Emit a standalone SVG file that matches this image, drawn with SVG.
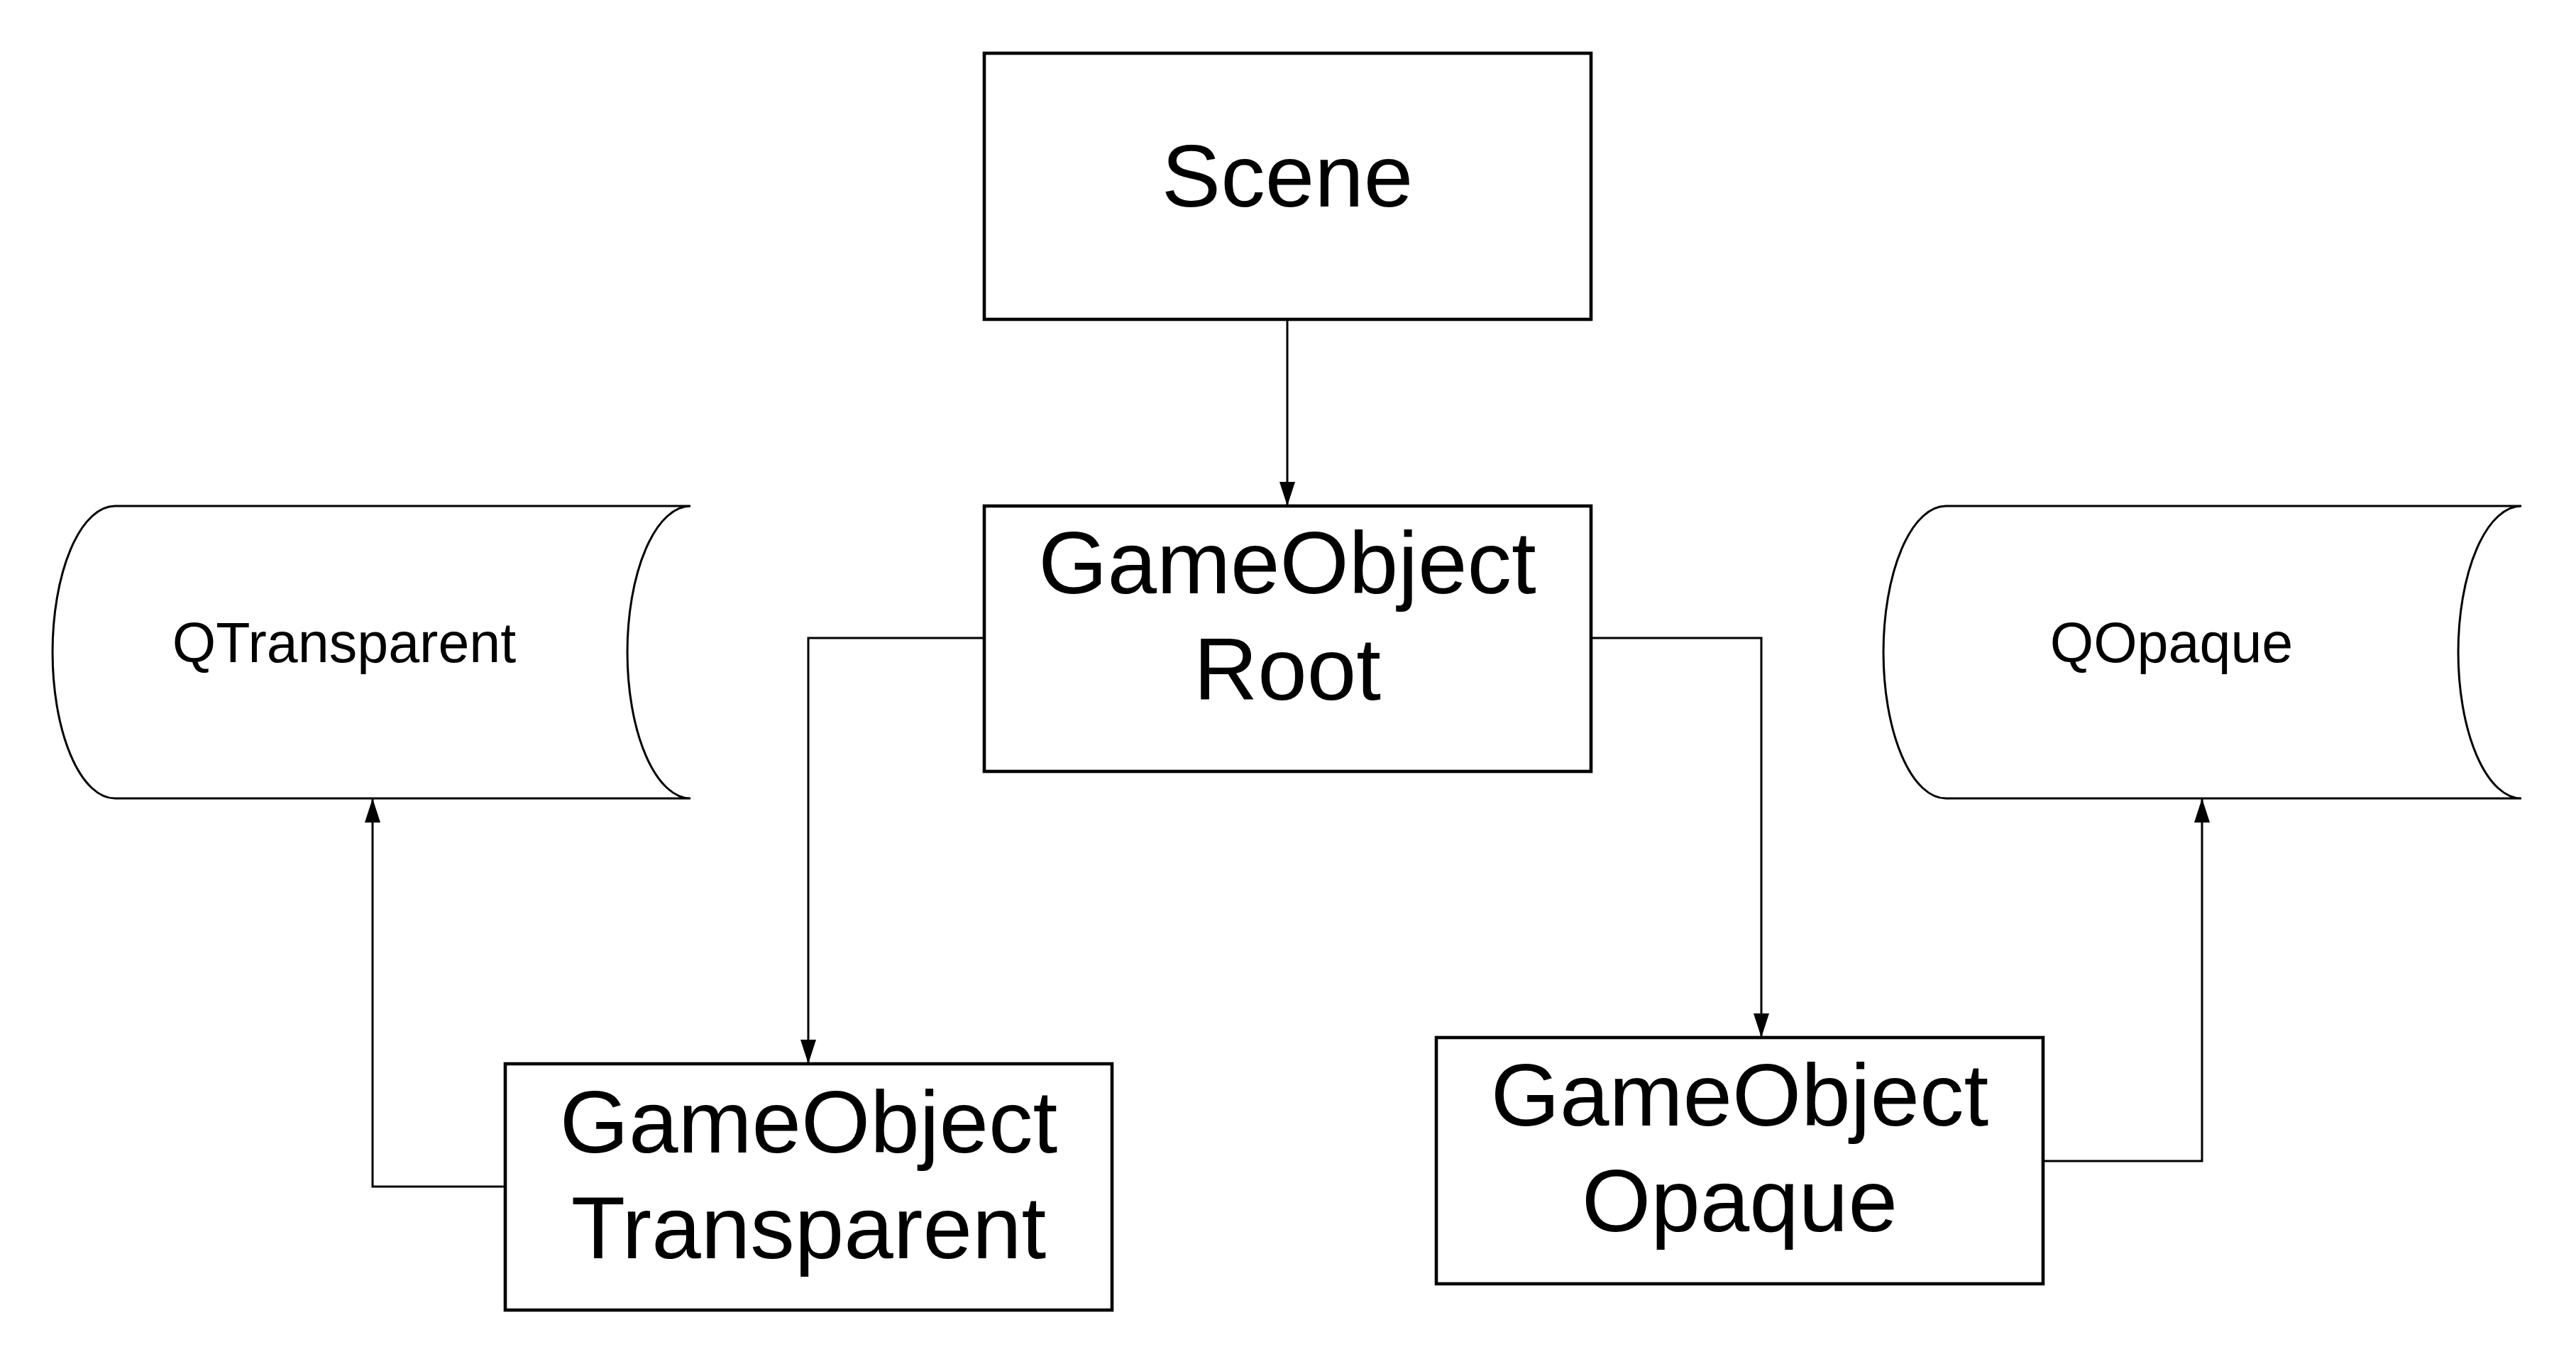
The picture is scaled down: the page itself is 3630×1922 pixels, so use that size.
<svg xmlns="http://www.w3.org/2000/svg" width="3630" height="1922" viewBox="0 0 3630 1922">
<defs>
<style>
.box{fill:#fff;stroke:#000;stroke-width:4.6}
.cyl{fill:#fff;stroke:#000;stroke-width:3}
.edge{fill:none;stroke:#000;stroke-width:3}
.big{font-family:"Liberation Sans",Arial,sans-serif;font-size:125px;text-anchor:middle;fill:#000}
.small{font-family:"Liberation Sans",Arial,sans-serif;font-size:79px;text-anchor:middle;fill:#000}
</style>
<marker id="arr" markerUnits="userSpaceOnUse" markerWidth="36" markerHeight="24" refX="34" refY="11" orient="auto">
<path d="M0,0 L34,11 L0,22 z" fill="#000"/>
</marker>
</defs>
<rect width="3630" height="1922" fill="#fff"/>
<g id="connectors">
<path class="edge" d="M1814 450 V713" marker-end="url(#arr)"/>
<path class="edge" d="M1387 899 H1139 V1499" marker-end="url(#arr)"/>
<path class="edge" d="M2242 899 H2482 V1462" marker-end="url(#arr)"/>
<path class="edge" d="M712 1672 H525 V1125" marker-end="url(#arr)"/>
<path class="edge" d="M2879 1636 H3103 V1125" marker-end="url(#arr)"/>
</g>
<g id="scene">
<rect class="box" x="1387" y="75" width="855" height="375"/>
<text class="big" x="1814" y="291">Scene</text>
</g>
<g id="root">
<rect class="box" x="1387" y="713" width="855" height="374"/>
<text class="big" x="1814" y="836">GameObject</text>
<text class="big" x="1814" y="986">Root</text>
</g>
<g id="qtransparent">
<path class="cyl" d="M973 713 L162 713 A88 206 0 0 0 162 1125 L973 1125 A89 206 0 0 1 973 713 Z"/>
<text class="small" x="485" y="933">QTransparent</text>
</g>
<g id="qopaque">
<path class="cyl" d="M3553 713 L2742 713 A88 206 0 0 0 2742 1125 L3553 1125 A89 206 0 0 1 3553 713 Z"/>
<text class="small" x="3060" y="933">QOpaque</text>
</g>
<g id="go-transparent">
<rect class="box" x="712" y="1499" width="855" height="347"/>
<text class="big" x="1139.5" y="1624">GameObject</text>
<text class="big" x="1139.5" y="1773">Transparent</text>
</g>
<g id="go-opaque">
<rect class="box" x="2024" y="1462" width="855" height="347"/>
<text class="big" x="2451.5" y="1586">GameObject</text>
<text class="big" x="2451.5" y="1735">Opaque</text>
</g>
</svg>
